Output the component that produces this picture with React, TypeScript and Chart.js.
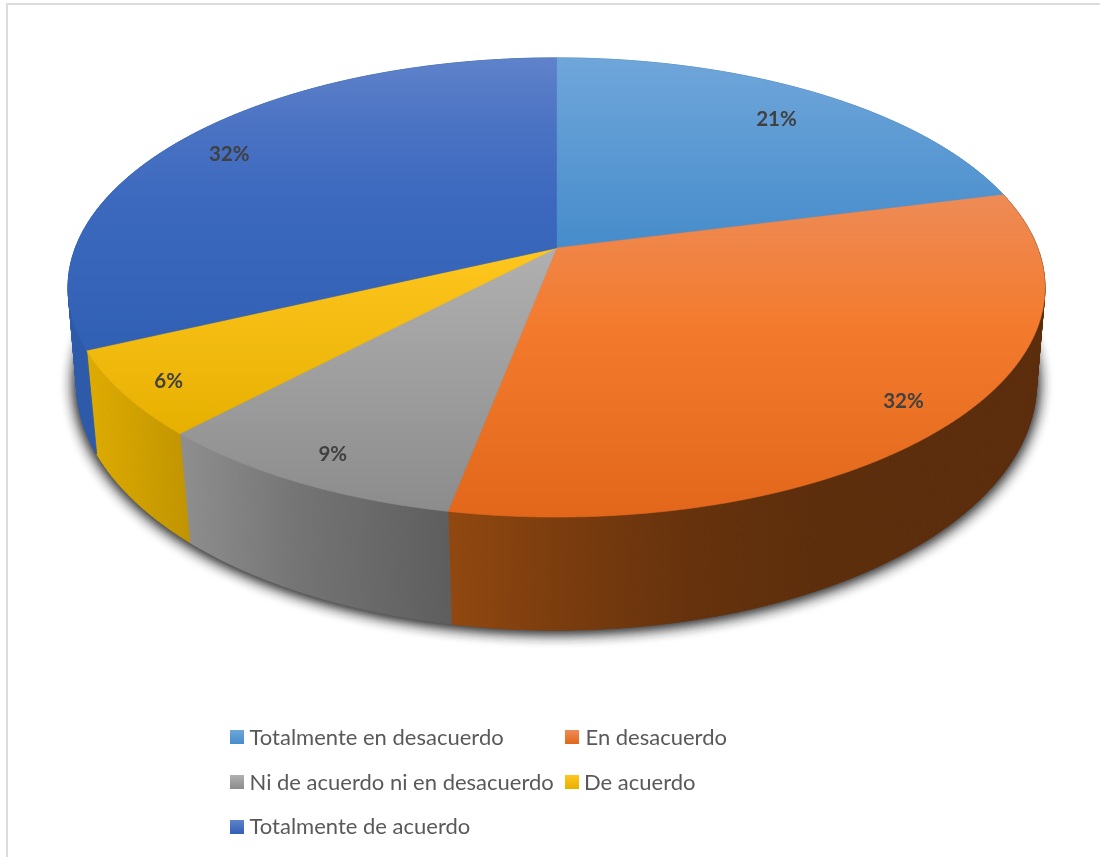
import React, { useEffect, useRef } from "react";
import { Chart, registerables } from "chart.js";

Chart.register(...registerables);

const categories = [
  "Totalmente en desacuerdo",
  "En desacuerdo",
  "Ni de acuerdo ni en desacuerdo",
  "De acuerdo",
  "Totalmente de acuerdo",
];
const shares = [21, 32, 9, 6, 32];
const baseColors = ["#5B9BD5", "#ED7D31", "#A5A5A5", "#FFC000", "#3F6CC4"];

// Perspective of the upper face and of the lower rim of the tilted disc.
const topRim = { cx: 556.5, cy: 248, a: 481.2, b: 222.8, k: 0.172 };
const lowRim = { cx: 556.5, cy: 344, a: 474, b: 241, k: 0.158 };

// Vertical shading of each upper face: [canvas y, colour].
const faceShades: [number, string][][] = [
  [[58, "#6FA6DA"], [248, "#468CCB"]],
  [[195, "#EE8B56"], [330, "#F37A2C"], [517, "#E2671A"]],
  [[248, "#B0B0B0"], [510, "#8C8C8C"]],
  [[248, "#FFC61F"], [435, "#E6B000"]],
  [[58, "#5F82CA"], [130, "#4A72C3"], [200, "#3C69BE"], [350, "#3060B4"]],
];
// Horizontal shading of each side wall: [canvas x, colour].
const wallShades: [number, string][][] = [
  [[556, "#3E7BB4"], [1000, "#3E7BB4"]],
  [[451, "#914810"], [556, "#7C3D0E"], [690, "#66320D"], [820, "#5D2E0C"], [1045, "#5C2D0C"]],
  [[185, "#8E8E8E"], [300, "#747474"], [450, "#5E5E5E"]],
  [[90, "#DFAC00"], [188, "#C29500"]],
  [[60, "#2D5BAA"], [560, "#2D5BAA"]],
];
// Distance of each value label from the hub, as a share of the radius.
const labelReach = [0.83, 0.886, 0.885, 0.905, 0.87];
// Legend rows: [marker x, text x, text baseline, marker top].
const legendSlots = [
  [230, 249.5, 745, 730],
  [565, 585.5, 745, 730],
  [230, 249.5, 790, 775],
  [565, 584, 790, 775],
  [230, 249.5, 834, 820],
];

type Rim = typeof topRim;

function project(rim: Rim, angle: number, reach = 1) {
  // Chart.js measures arcs from 3 o'clock; the disc's own angle starts at 12.
  const t = angle + Math.PI / 2;
  const s = Math.sin(t) * reach;
  const c = Math.cos(t) * reach;
  const w = 1 + rim.k * c;
  return { x: rim.cx + (rim.a * s) / w, y: rim.cy - (rim.b * c) / w };
}

function linear(ctx: CanvasRenderingContext2D, stops: [number, string][], vertical: boolean) {
  const from = stops[0][0];
  const to = stops[stops.length - 1][0];
  const g = vertical
    ? ctx.createLinearGradient(0, from, 0, to)
    : ctx.createLinearGradient(from, 0, to, 0);
  stops.forEach(([p, col]) => g.addColorStop((p - from) / (to - from), col));
  return g;
}

function tracePath(ctx: CanvasRenderingContext2D, rim: Rim, start: number, end: number) {
  const n = Math.max(2, Math.ceil((end - start) / 0.005));
  for (let i = 0; i <= n; i++) {
    const p = project(rim, start + ((end - start) * i) / n);
    ctx.lineTo(p.x, p.y);
  }
}

const disc3d = {
  id: "disc3d",
  beforeDatasetsDraw(chart: Chart) {
    const ctx = chart.ctx;
    const arcs = chart.getDatasetMeta(0).data as any[];
    ctx.save();

    // Soft shadow cast below the lower rim, laid twice for a dense core.
    ctx.save();
    ctx.shadowColor = "rgba(30,30,30,0.95)";
    ctx.shadowBlur = 15;
    ctx.shadowOffsetY = 1;
    ctx.fillStyle = "#555";
    for (let pass = 0; pass < 2; pass++) {
      ctx.beginPath();
      tracePath(ctx, lowRim, -Math.PI / 2, Math.PI * 1.5);
      ctx.closePath();
      ctx.fill();
    }
    ctx.restore();

    // Side walls, as thin strips so the outline follows the rim tangents.
    arcs.forEach((arc, i) => {
      const g = linear(ctx, wallShades[i], false);
      ctx.fillStyle = g;
      ctx.strokeStyle = g;
      ctx.lineWidth = 0.8;
      const n = Math.ceil((arc.endAngle - arc.startAngle) / 0.01);
      for (let j = 0; j < n; j++) {
        const a0 = arc.startAngle + ((arc.endAngle - arc.startAngle) * j) / n;
        const a1 = arc.startAngle + ((arc.endAngle - arc.startAngle) * (j + 1)) / n;
        const p0 = project(topRim, a0);
        const p1 = project(topRim, a1);
        const q1 = project(lowRim, a1);
        const q0 = project(lowRim, a0);
        ctx.beginPath();
        ctx.moveTo(p0.x, p0.y);
        ctx.lineTo(p1.x, p1.y);
        ctx.lineTo(q1.x, q1.y);
        ctx.lineTo(q0.x, q0.y);
        ctx.closePath();
        ctx.fill();
        ctx.stroke();
      }
    });

    // Upper faces.
    arcs.forEach((arc, i) => {
      const g = linear(ctx, faceShades[i], true);
      ctx.fillStyle = g;
      ctx.strokeStyle = g;
      ctx.lineWidth = 0.6;
      ctx.beginPath();
      ctx.moveTo(topRim.cx, topRim.cy);
      tracePath(ctx, topRim, arc.startAngle, arc.endAngle);
      ctx.closePath();
      ctx.fill();
      ctx.stroke();
    });

    // Value labels.
    ctx.font = "bold 20.5px Lato";
    ctx.fillStyle = "#404040";
    ctx.textAlign = "center";
    ctx.textBaseline = "middle";
    arcs.forEach((arc, i) => {
      const p = project(topRim, (arc.startAngle + arc.endAngle) / 2, labelReach[i]);
      ctx.fillText(`${shares[i]}%`, p.x, p.y + 3);
    });

    // Legend.
    ctx.font = "22px Lato";
    ctx.textAlign = "left";
    ctx.textBaseline = "alphabetic";
    categories.forEach((name, i) => {
      const [mx, tx, base, top] = legendSlots[i];
      const g = ctx.createLinearGradient(0, top, 0, top + 14);
      const stops = faceShades[i];
      g.addColorStop(0, stops[0][1]);
      g.addColorStop(1, stops[stops.length - 1][1]);
      ctx.fillStyle = g;
      ctx.fillRect(mx, top, 14, 14);
      ctx.fillStyle = "#595959";
      ctx.fillText(name, tx, base);
    });

    ctx.restore();
    return false;
  },
};

export default function App() {
  const ref = useRef<HTMLCanvasElement>(null);
  useEffect(() => {
    const chart = new Chart(ref.current!, {
      type: "pie",
      data: {
        labels: categories,
        datasets: [{ data: shares, backgroundColor: baseColors, borderWidth: 0 }],
      },
      options: {
        responsive: false,
        animation: false,
        plugins: { legend: { display: false }, tooltip: { enabled: false } },
      },
      plugins: [disc3d as any],
    });
    return () => chart.destroy();
  }, []);
  return (
    <div style={{ position: "absolute", left: 0, top: 0, width: 1100, height: 857, background: "#fff", overflow: "hidden" }}>
      <div style={{ position: "absolute", left: 6, top: 3, width: 1200, height: 1000, borderTop: "2px solid #DCDCDC", borderLeft: "2px solid #DCDCDC" }} />
      <canvas ref={ref} width={1100} height={857} style={{ position: "absolute", left: 0, top: 0, display: "block" }} />
    </div>
  );
}
